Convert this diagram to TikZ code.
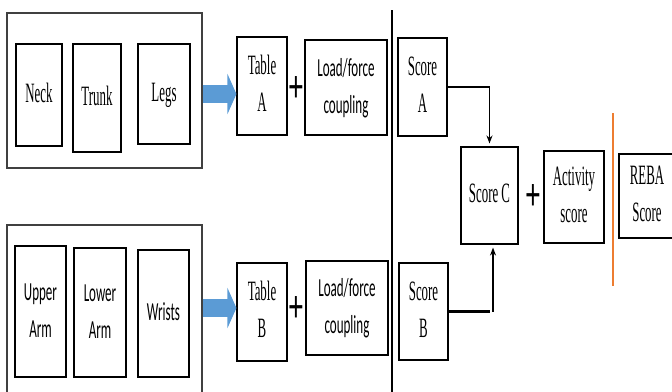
\documentclass[tikz,border=0pt]{standalone}
\usepackage{fontspec}
\setmainfont{Liberation Serif}
\setsansfont{Carlito}
\usepackage{graphicx}
\usetikzlibrary{arrows.meta}

\definecolor{wordblue}{RGB}{91,155,213}
\definecolor{wordorange}{RGB}{237,125,49}

% squeezed labels (serif and sans)
\newcommand\sertxt[1]{\scalebox{0.46}[1]{\fontsize{28}{37}\selectfont\begin{tabular}{@{}c@{}}#1\end{tabular}}}
\newcommand\santxt[1]{\scalebox{0.5}[1]{\fontsize{26}{37}\selectfont\sffamily\begin{tabular}{@{}c@{}}#1\end{tabular}}}
\newcommand\plussign{\scalebox{0.6}[1]{\fontsize{46}{46}\selectfont\bfseries +}}

\begin{document}
\begin{tikzpicture}[x=1pt, y=-1pt,
	box/.style={draw, line width=1.1, inner sep=0pt},
	frame/.style={draw=black!75, line width=1.4, inner sep=0pt},
	plus/.style={inner sep=0pt},
	blockarrow/.style={wordblue, line width=18, -{Triangle[length=9pt, width=40pt]}},
	scorelink/.style={line width=1.4, -{Stealth[length=8pt, width=6pt]}, shorten >=3pt}
	]
	\clip (0,0) rectangle (672,391);

	% upper body group
	\node [frame, minimum width=195, minimum height=155] (upper) at (104.5, 90.5) {};
	\node [box, minimum width=46, minimum height=102] (neck)  at (39, 95) {\sertxt{Neck}};
	\node [box, minimum width=48, minimum height=108] (trunk) at (97, 98) {\sertxt{Trunk}};
	\node [box, minimum width=52, minimum height=100] (legs)  at (164, 94) {\sertxt{Legs}};

	% arm group
	\node [frame, minimum width=195, minimum height=170] (lower) at (104.5, 310) {};
	\node [box, minimum width=51, minimum height=131] (uarm)   at (40.5, 311.5) {\santxt{Upper\\Arm}};
	\node [box, minimum width=52, minimum height=129] (larm)   at (100, 312.5) {\santxt{Lower\\Arm}};
	\node [box, minimum width=51, minimum height=127] (wrists) at (163.5, 313.5) {\santxt{Wrists}};

	% tables A and B
	\node [box, minimum width=50, minimum height=98] (tabA)  at (262, 86) {\sertxt{Table\\A}};
	\node [plus] (plusA) at (296, 90) {\plussign};
	\node [box, minimum width=82, minimum height=95] (loadA) at (346, 87.5) {\santxt{Load/force\\coupling}};

	\node [box, minimum width=50, minimum height=98] (tabB)  at (262, 312) {\sertxt{Table\\B}};
	\node [plus] (plusB) at (296, 310) {\plussign};
	\node [box, minimum width=82, minimum height=94] (loadB) at (347, 308) {\santxt{Load/force\\coupling}};

	\draw [blockarrow] (upper.east |- legs) -- (tabA.west |- legs);
	\draw [blockarrow] (lower.east |- loadB) -- (tabB.west |- loadB);

	% divider
	\draw [line width=1.4] (392, 10) -- (392, 395);

	% scores
	\node [box, minimum width=49, minimum height=98] (scA) at (422.5, 87) {\sertxt{Score\\A}};
	\node [box, minimum width=49, minimum height=97] (scB) at (423.5, 311.5) {\sertxt{Score\\B}};
	\node [box, minimum width=57, minimum height=97] (scC) at (489.5, 195.5) {\sertxt{Score C}};
	\node [plus] (plusC) at (533, 198) {\plussign};
	\node [box, minimum width=60, minimum height=92] (act) at (574, 197) {\sertxt{Activity\\score}};

	\draw [line width=2.6] (scA.east) -- (scA.east -| scC.north);
	\draw [scorelink] (scA.east -| scC.north) -- (scC.north);
	\draw [line width=2.6] (scB.east) -- (scB.east -| scC.south) coordinate (bend);
	\draw [scorelink] ([xshift=3.5pt]bend) -- ([xshift=3.5pt]scC.south);

	% result
	\draw [wordorange, line width=1.8] (613, 113) -- (613, 286);
	\node [box, minimum width=56, minimum height=84] (reba) at (647, 196) {\sertxt{REBA\\Score}};
\end{tikzpicture}
\end{document}
